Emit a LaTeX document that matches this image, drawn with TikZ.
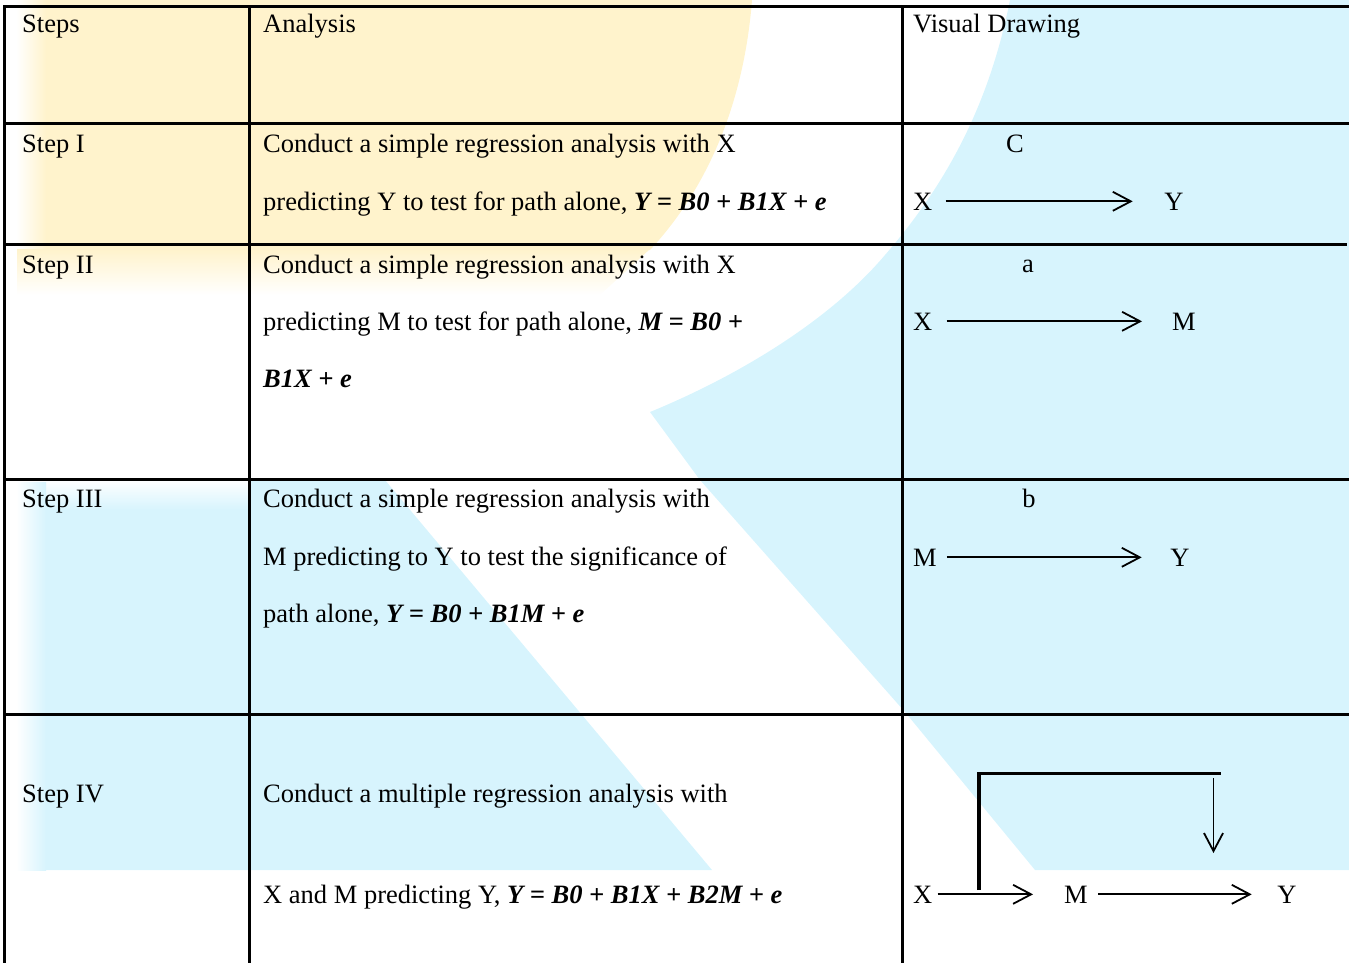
\documentclass[tikz,border=0pt]{standalone}
\usepackage{fontspec}
\setmainfont{Liberation Serif}
\usetikzlibrary{arrows.meta}
\definecolor{wmy}{RGB}{255,243,204}
\definecolor{wmb}{RGB}{215,244,253}
\newcommand{\boldit}[1]{\textbf{\textit{#1}}}
\begin{document}
\begin{tikzpicture}[x=1pt,y=-1pt,
  txt/.style={font=\fontsize{26.5}{30}\selectfont, inner sep=0pt, anchor=base west},
  lbl/.style={font=\fontsize{26.5}{30}\selectfont, inner sep=0pt, anchor=base},
  grid/.style={line width=3pt, line cap=rect},
  arr/.style={line width=1.8pt, -{Straight Barb[length=18pt,width=19pt]}},
  bracket/.style={line width=3.2pt}]
\useasboundingbox (0,0) rectangle (1349,962);
\clip (0,0) rectangle (1349,962);
% ---------- watermark ----------
\fill[wmy] (30,0) -- (752,0) .. controls (745,90) and (715,180) .. (650,250) -- (30,250) -- cycle;
\shade[left color=white, right color=wmy] (16,0) rectangle (46,250);
\shade[top color=wmy, bottom color=white] (16,249) -- (650,249) -- (600,295) -- (16,295) -- cycle;
\fill[wmb] (1010,0) -- (1349,0) -- (1349,870) -- (1035,870) -- (905,712) -- (700,480) -- (650,412)
  .. controls (740,375) and (830,320) .. (885,255) .. controls (950,180) and (990,100) .. (1010,0) -- cycle;
\fill[wmb] (30,482) -- (385,480) -- (712,870) -- (30,870) -- cycle;
\shade[top color=white, bottom color=wmb] (30,479) rectangle (249,510);
\shade[left color=white, right color=wmb] (16,482) rectangle (46,870);
\fill[white] (0,0) rectangle (16.5,962);
% ---------- table grid ----------
\draw[grid] (4,6.5) -- (1349,6.5);
\draw[grid] (4,123) -- (1349,123);
\draw[grid] (4,244.5) -- (1345,244.5);
\draw[grid] (4,479) -- (1349,479);
\draw[grid] (4,714) -- (1349,714);
\draw[grid] (4,6.5) -- (4,962);
\draw[grid] (249,6.5) -- (249,962);
\draw[grid] (902,6.5) -- (902,962);
% ---------- header ----------
\node[txt] (h1) at (22,32) {Steps};
\node[txt] (h2) at (263,32) {Analysis};
\node[txt] (h3) at (913,32) {Visual Drawing};
% ---------- Step I ----------
\node[txt] (s1) at (22,152) {Step I};
\node[txt] (a1a) at (263,152) {Conduct a simple regression analysis with X};
\node[txt] (a1b) at (263,210) {predicting Y to test for path alone, \boldit{Y = B0 + B1X + e}};
\node[lbl] (c1) at (1015,152) {C};
\node[txt] (x1) at (913,210) {X};
\node[lbl] (y1) at (1174,210) {Y};
\draw[arr] ([xshift=13pt]x1.east) -- ([xshift=-31.5pt]y1.west);
% ---------- Step II ----------
\node[txt] (s2) at (22,273) {Step II};
\node[txt] (a2a) at (263,273) {Conduct a simple regression analysis with X};
\node[txt] (a2b) at (263,330) {predicting M to test for path alone, \boldit{M = B0 +}};
\node[txt] (a2c) at (263,387) {\boldit{B1X + e}};
\node[lbl] (c2) at (1028,272) {a};
\node[txt] (x2) at (913,330) {X};
\node[lbl] (m2) at (1184,330) {M};
\draw[arr] ([xshift=14pt]x2.east) -- ([xshift=-30pt]m2.west);
% ---------- Step III ----------
\node[txt] (s3) at (22,507) {Step III};
\node[txt] (a3a) at (263,507) {Conduct a simple regression analysis with};
\node[txt] (a3b) at (263,565) {M predicting to Y to test the significance of};
\node[txt] (a3c) at (263,622) {path alone, \boldit{Y = B0 + B1M + e}};
\node[lbl] (c3) at (1029,507) {b};
\node[txt] (m3) at (913,566) {M};
\node[lbl] (y3) at (1180,566) {Y};
\draw[arr] ([xshift=10pt]m3.east) -- ([xshift=-28.5pt]y3.west);
% ---------- Step IV ----------
\node[txt] (s4) at (22,802) {Step IV};
\node[txt] (a4a) at (263,802) {Conduct a multiple regression analysis with};
\node[txt] (a4b) at (263,903) {X and M predicting Y, \boldit{Y = B0 + B1X + B2M + e}};
\node[txt] (x4) at (913,903) {X};
\node[lbl] (m4) at (1076,903) {M};
\node[lbl] (y4) at (1287,903) {Y};
\draw[arr] ([xshift=5pt]x4.east) -- ([xshift=-31pt]m4.west);
\draw[arr] ([xshift=10.5pt]m4.east) -- ([xshift=-25.5pt]y4.west);
\coordinate (bk1) at (979,890);
\coordinate (bk2) at (979,773.5);
\coordinate (bk3) at (1221,773.5);
\draw[bracket] (bk1) -- (bk2) -- (bk3);
\coordinate (d1) at (1213.5,778);
\coordinate (d2) at (1213.5,853);
\draw[arr] (d1) -- (d2);
\end{tikzpicture}
\end{document}
